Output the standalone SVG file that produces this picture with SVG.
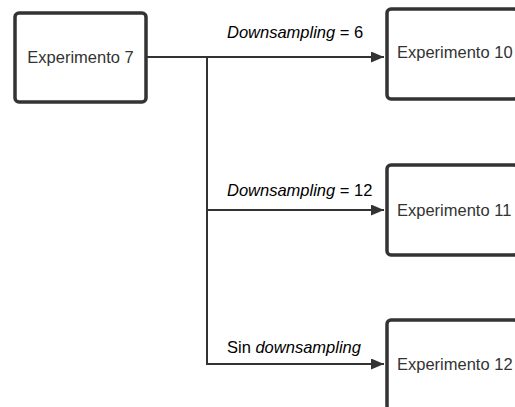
<svg xmlns="http://www.w3.org/2000/svg" width="515" height="407" viewBox="0 0 515 407">
<style>
.box{fill:#fff;stroke:#333;stroke-width:3.5}
.t{font-family:"Liberation Sans",Arial,sans-serif;font-size:16.5px;fill:#333}
.l{font-family:"Liberation Sans",Arial,sans-serif;font-size:16.5px;fill:#000}
.c{fill:none;stroke:#333;stroke-width:2}
</style>
<defs>
<marker id="ah" markerUnits="userSpaceOnUse" markerWidth="14" markerHeight="12" refX="13" refY="5.5" orient="auto">
<path d="M0,0 L13,5.5 L0,11 Z" fill="#333"/>
</marker>
</defs>
<rect width="515" height="407" fill="#fff"/>
<g id="connectors">
<path class="c" d="M146,57 H384" marker-end="url(#ah)"/>
<path class="c" d="M207,57 V364 H384" marker-end="url(#ah)"/>
<path class="c" d="M207,210 H384" marker-end="url(#ah)"/>
<text class="l" x="227" y="38"><tspan font-style="italic">Downsampling</tspan> = 6</text>
<text class="l" x="227" y="196"><tspan font-style="italic">Downsampling</tspan> = 12</text>
<text class="l" x="227" y="353">Sin <tspan font-style="italic">downsampling</tspan></text>
</g>
<g id="n7">
<rect class="box" x="15" y="13" width="131" height="89" rx="4"/>
<text class="t" x="80.5" y="63" text-anchor="middle">Experimento 7</text>
</g>
<g id="n10">
<rect class="box" x="387" y="9" width="131" height="90" rx="4"/>
<text class="t" x="397" y="58">Experimento 10</text>
</g>
<g id="n11">
<rect class="box" x="387" y="165" width="131" height="90" rx="4"/>
<text class="t" x="397" y="216">Experimento 11</text>
</g>
<g id="n12">
<rect class="box" x="387" y="320" width="131" height="90" rx="4"/>
<text class="t" x="397" y="370">Experimento 12</text>
</g>
</svg>
